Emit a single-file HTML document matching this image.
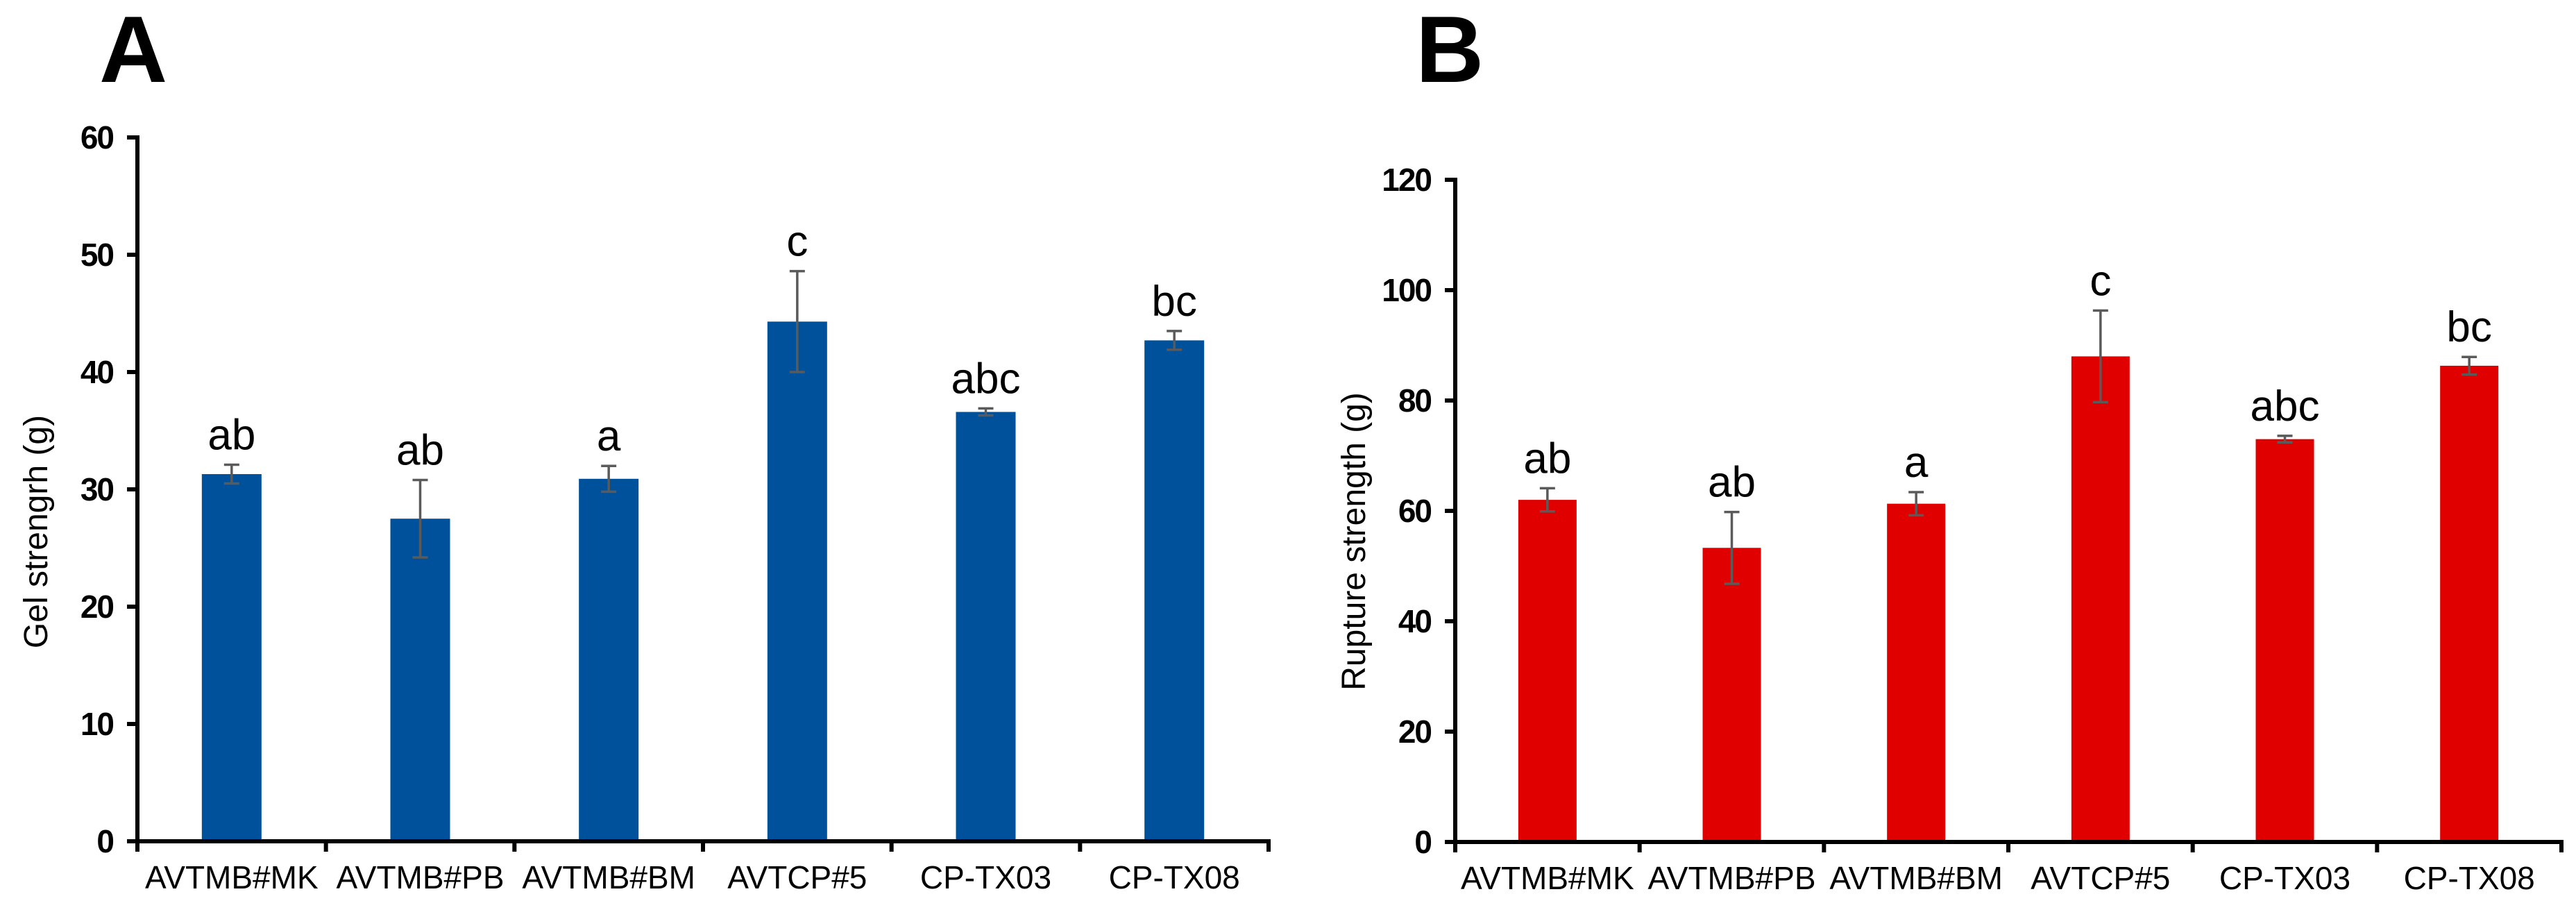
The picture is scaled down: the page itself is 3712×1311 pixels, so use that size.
<!DOCTYPE html>
<html><head><meta charset="utf-8"><style>
html,body{margin:0;padding:0;background:#fff;}
svg{display:block;}
text{font-family:"Liberation Sans",Arial,sans-serif;}
</style></head><body>
<svg id="fig" width="3712" height="1311" viewBox="0 0 3712 1311" xmlns="http://www.w3.org/2000/svg">
<rect width="3712" height="1311" fill="#fff"/>
</svg>
<script>
const categories = ["AVTMB#MK","AVTMB#PB","AVTMB#BM","AVTCP#5","CP-TX03","CP-TX08"];
const gelValues = [31.3, 27.5, 30.9, 44.3, 36.6, 42.7];
const gelErrors = [0.8, 3.3, 1.1, 4.3, 0.3, 0.8];
const gelLetters = ["ab","ab","a","c","abc","bc"];
const gelTicks = [0,10,20,30,40,50,60];
const ruptureValues = [62.0, 53.3, 61.3, 88.0, 73.0, 86.3];
const ruptureErrors = [2.1, 6.5, 2.1, 8.3, 0.6, 1.6];
const ruptureLetters = ["ab","ab","a","c","abc","bc"];
const ruptureTicks = [0,20,40,60,80,100,120];

const NS = "http://www.w3.org/2000/svg";
const svg = document.getElementById('fig');
function mk(tag, attrs, parent, txt){
  const e = document.createElementNS(NS, tag);
  for (const k in attrs) e.setAttribute(k, attrs[k]);
  if (txt !== undefined) e.textContent = txt;
  (parent||svg).appendChild(e);
  return e;
}

function panel(cfg){
  const g = mk('g', {});
  
  
  const x0 = cfg.x0, x1 = cfg.x1, yb = cfg.yBase, yt = cfg.yTop;
  const maxV = cfg.ticks[cfg.ticks.length-1];
  const yScale = v => yb - (v / maxV) * (yb - yt);
  const n = categories.length;
  const cw = (x1 - x0) / n;
  const xCenter = i => x0 + cw * (i + 0.5);

  const lbl = mk('text', {x: cfg.labelX, y: 118, 'font-size': 136, 'font-weight': 'bold', fill: '#000'}, g, cfg.letter);
  
  

  cfg.values.forEach((v, i) => {
    const bw = cfg.barW;
    const bar = mk('rect', {x: xCenter(i) - bw/2, y: yScale(v), width: bw, height: yb - yScale(v), fill: cfg.color}, g);
    
    
    const e = cfg.errors[i];
    const yH = yScale(v + e), yL = yScale(v - e), cx = xCenter(i);
    const eg = mk('g', {stroke: '#5a5a5a', 'stroke-width': 3.5}, g);
    
    
    mk('line', {x1: cx, x2: cx, y1: yH, y2: yL}, eg);
    mk('line', {x1: cx-11, x2: cx+11, y1: yH, y2: yH}, eg);
    mk('line', {x1: cx-11, x2: cx+11, y1: yL, y2: yL}, eg);
    const t = mk('text', {x: cx, y: yH - 22, 'font-size': 62, 'text-anchor': 'middle', fill: '#000'}, g, cfg.letters[i]);
    
    
  });

  const ax = mk('g', {stroke: '#000', 'stroke-width': 6, fill: 'none'}, g);
  
  
  mk('line', {x1: x0, x2: x0, y1: yt - 3, y2: yb + 15}, ax);
  mk('line', {x1: x0 - 15, x2: x1 + 3, y1: yb, y2: yb}, ax);
  cfg.ticks.forEach(tv => {
    const y = yScale(tv);
    mk('line', {x1: x0 - 15, x2: x0, y1: y, y2: y}, ax);
    const tl = mk('text', {x: x0 - 35, y: y + 16, 'font-size': 46, 'font-weight': 'bold', 'text-anchor': 'end', fill: '#000', stroke: 'none', 'letter-spacing': '-2'}, g, String(tv));
    
    
  });
  for (let i = 0; i <= n; i++){
    const x = x0 + cw * i;
    mk('line', {x1: x, x2: x, y1: yb, y2: yb + 15}, ax);
  }
  categories.forEach((c, i) => {
    const t = mk('text', {x: xCenter(i), y: yb + 68, 'font-size': 46, 'text-anchor': 'middle', fill: '#000'}, g, c);
    
    
  });
  const ty = mk('text', {x: 0, y: 0, 'font-size': 48, 'text-anchor': 'middle', fill: '#000',
    transform: 'translate(' + cfg.titleX + ',' + cfg.titleY + ') rotate(-90)'}, g, cfg.title);
  
  
}

panel({name: 'gel-strength-chart', letter: 'A', labelX: 143, x0: 198, x1: 1828, yBase: 1212, yTop: 198,
  ticks: gelTicks, values: gelValues, errors: gelErrors, letters: gelLetters, color: '#00519B', barW: 86,
  title: 'Gel strengrh (g)', titleX: 68, titleY: 766});
panel({name: 'rupture-strength-chart', letter: 'B', labelX: 2040, x0: 2097, x1: 3691, yBase: 1213, yTop: 259,
  ticks: ruptureTicks, values: ruptureValues, errors: ruptureErrors, letters: ruptureLetters, color: '#E00000', barW: 84,
  title: 'Rupture strength (g)', titleX: 1967, titleY: 780});
</script>
</body></html>
